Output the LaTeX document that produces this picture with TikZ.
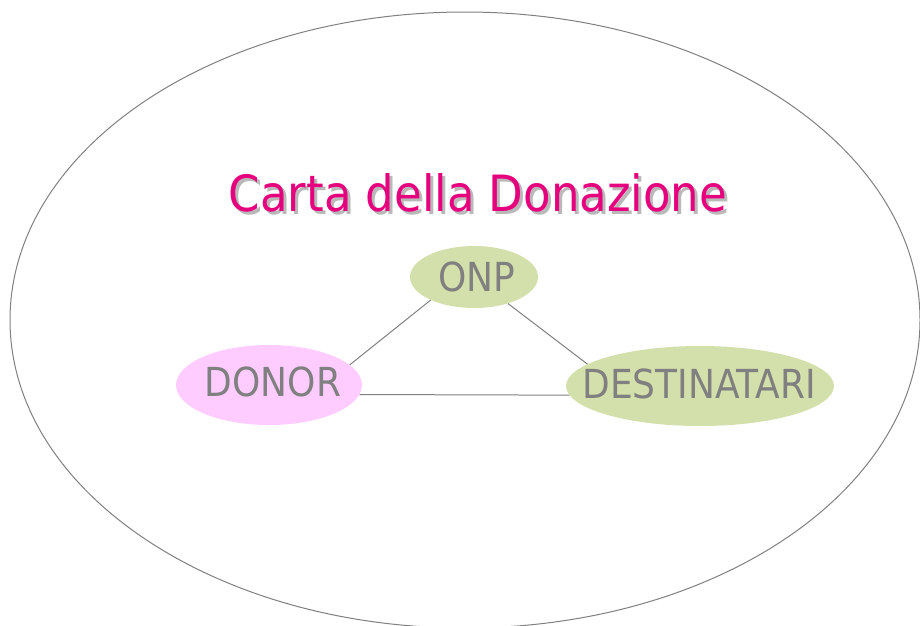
\documentclass[tikz,border=0pt]{standalone}
\usepackage{fontspec}
\setmainfont{DejaVu Sans Condensed}
\usetikzlibrary{shapes.geometric}
\definecolor{linegray}{RGB}{128,128,128}
\definecolor{onpgreen}{RGB}{212,224,171}
\definecolor{donorpink}{RGB}{255,204,255}
\definecolor{titlemag}{RGB}{230,0,126}
\definecolor{shadowgray}{RGB}{185,185,185}
\newcommand{\shadowtitle}[1]{\makebox[0pt][l]{\hspace{3pt}\raisebox{-3pt}{\textcolor{shadowgray}{#1}}}\textcolor{titlemag}{#1}}
\tikzset{
  bubble/.style={ellipse, inner sep=0pt, text=linegray, font=\fontsize{40}{48}\selectfont},
  link/.style={draw=linegray, line width=1pt},
  titletext/.style={font=\fontsize{50}{60}\selectfont, inner sep=0pt}
}
\begin{document}
\begin{tikzpicture}[x=1pt,y=-1pt]
\useasboundingbox (0,0) rectangle (920,625);
\clip (0,0) rectangle (920,625);
\fill[white] (0,0) rectangle (920,625);
\draw[draw=linegray, line width=1pt] (465,320) ellipse [x radius=455pt, y radius=308pt];
% title with shadow
\node[titletext] (title) at (478,194) {\shadowtitle{Carta della Donazione}};
% bubbles
\node[bubble, fill=onpgreen, minimum width=128pt, minimum height=62pt] (onp) at (474,277) {};
\node[bubble, fill=donorpink, minimum width=186pt, minimum height=80pt] (donor) at (269,385) {};
\node[bubble, fill=onpgreen, minimum width=268pt, minimum height=80pt] (dest) at (700,386) {};
\node[bubble] (onpt) at (477,277) {ONP};
\node[bubble] (donort) at (273,382) {DONOR};
\node[bubble] (destt) at (699,384) {DESTINATARI};
% links
\draw[link] (onp.208.7) -- (donor.14.4);
\draw[link] (onp.322.6) -- (dest.169.7);
\draw[link] (donor.-6.9) -- (dest.184.4);
\end{tikzpicture}
\end{document}
